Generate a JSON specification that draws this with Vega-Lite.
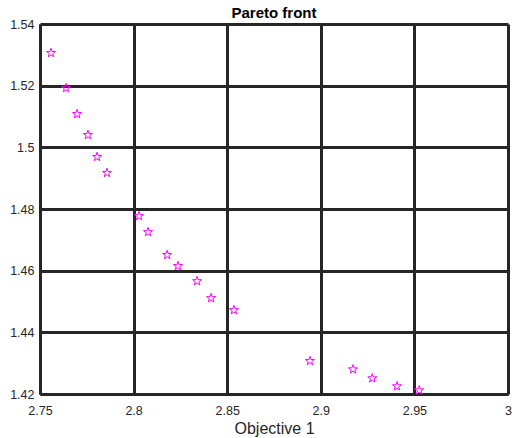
{
  "$schema": "https://vega.github.io/schema/vega-lite/v6.json",
  "autosize": "none",
  "width": 468,
  "height": 370,
  "padding": {"left": 40, "top": 24, "right": 4, "bottom": 44},
  "background": "white",
  "title": {"text": "Pareto front", "font": "Liberation Sans", "fontSize": 15, "fontWeight": "bold", "color": "#000000", "offset": -3, "anchor": "middle"},
  "config": {
    "view": {"stroke": null},
    "axis": {
      "labelFont": "Liberation Sans", "labelFontSize": 12.5, "labelColor": "#262626",
      "titleFont": "Liberation Sans", "titleFontSize": 16, "titleColor": "#262626", "titleFontWeight": "normal",
      "grid": true, "gridColor": "#262626", "gridWidth": 3, "gridOpacity": 1,
      "domain": true, "domainColor": "#262626", "domainWidth": 3,
      "ticks": false, "format": "~g"
    }
  },
  "data": {"values": [
    {"obj1": 2.7559, "obj2": 1.5306},
    {"obj1": 2.7639, "obj2": 1.5192},
    {"obj1": 2.7698, "obj2": 1.5108},
    {"obj1": 2.7756, "obj2": 1.5040},
    {"obj1": 2.7805, "obj2": 1.4969},
    {"obj1": 2.7858, "obj2": 1.4917},
    {"obj1": 2.8029, "obj2": 1.4777},
    {"obj1": 2.8077, "obj2": 1.4725},
    {"obj1": 2.8179, "obj2": 1.4651},
    {"obj1": 2.8237, "obj2": 1.4615},
    {"obj1": 2.8339, "obj2": 1.4566},
    {"obj1": 2.8414, "obj2": 1.4511},
    {"obj1": 2.8536, "obj2": 1.4472},
    {"obj1": 2.8942, "obj2": 1.4307},
    {"obj1": 2.9172, "obj2": 1.4280},
    {"obj1": 2.9275, "obj2": 1.4251},
    {"obj1": 2.9407, "obj2": 1.4225},
    {"obj1": 2.9526, "obj2": 1.4212}
  ]},
  "mark": {
    "type": "point",
    "shape": "M0,-1L0.2245,-0.309L0.951,-0.309L0.363,0.118L0.588,0.809L0,0.382L-0.588,0.809L-0.363,0.118L-0.951,-0.309L-0.2245,-0.309Z",
    "size": 90,
    "filled": false,
    "stroke": "#ff00ff",
    "strokeWidth": 1,
    "opacity": 1,
    "clip": false
  },
  "encoding": {
    "x": {"field": "obj1", "type": "quantitative", "title": "Objective 1",
      "scale": {"domain": [2.75, 3], "nice": false, "zero": false},
      "axis": {"values": [2.75, 2.8, 2.85, 2.9, 2.95, 3], "labelPadding": 10, "titlePadding": 4, "labelFlush": false}},
    "y": {"field": "obj2", "type": "quantitative", "title": null,
      "scale": {"domain": [1.42, 1.54], "nice": false, "zero": false},
      "axis": {"values": [1.42, 1.44, 1.46, 1.48, 1.5, 1.52, 1.54], "labelPadding": 6, "labelFlush": false}}
  }
}
